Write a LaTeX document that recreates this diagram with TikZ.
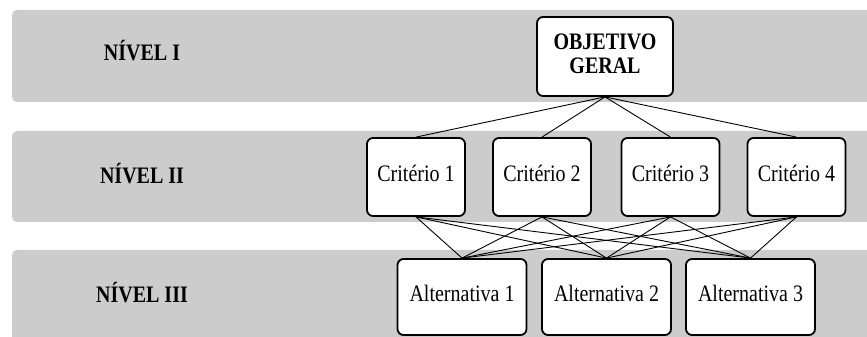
\documentclass[tikz,border=0pt]{standalone}
\usepackage{fontspec}
\setmainfont{Liberation Serif}
\usepackage{graphicx}
\usepackage{tikz}
\definecolor{xBand}{RGB}{204,204,204}

% the printed letters are a little taller than they are wide
\newcommand{\stretchtext}[1]{%
    \scalebox{1}[1.18]{\begin{tabular}{@{}c@{}}#1\end{tabular}}}

\tikzset{
    levelband/.style={fill=xBand, rounded corners=5pt},
    levellabel/.style={font=\fontsize{20}{25}\selectfont\bfseries},
    hierbox/.style={draw=black, fill=white, line width=1.8pt,
        rounded corners=6pt, align=center,
        font=\fontsize{20}{21}\selectfont},
    link/.style={black, line width=0.9pt}
}

\begin{document}
\begin{tikzpicture}[x=1pt,y=1pt]

    \useasboundingbox (0,0) rectangle (867,337);

    % -------------------------------------------------
    % Grey level bands (they run off the right edge)
    % -------------------------------------------------
    \fill[levelband] (12,235) rectangle (890,327);
    \fill[levelband] (12,115) rectangle (890,206);
    \fill[levelband] (12,-20) rectangle (890,87);

    % -------------------------------------------------
    % Level names
    % -------------------------------------------------
    \node[levellabel] (niv1) at (142,282) {\stretchtext{NÍVEL I}};
    \node[levellabel] (niv2) at (142,159) {\stretchtext{NÍVEL II}};
    \node[levellabel] (niv3) at (142,40)  {\stretchtext{NÍVEL III}};

    % -------------------------------------------------
    % Boxes of the hierarchy
    % -------------------------------------------------
    \node[hierbox, font=\fontsize{20}{21}\selectfont\bfseries,
          minimum width=136, minimum height=79]
        (og) at (605,280.5) {\stretchtext{OBJETIVO\\GERAL}};

    \foreach \i/\x in {1/416, 2/542, 3/670.5, 4/796.5}{
        \node[hierbox, minimum width=98, minimum height=78]
            (c\i) at (\x,160) {\stretchtext{Critério \i}};
    }

    \foreach \i/\x in {1/462, 2/606.5, 3/750.5}{
        \node[hierbox, minimum width=129, minimum height=76]
            (a\i) at (\x,40) {\stretchtext{Alternativa \i}};
    }

    % -------------------------------------------------
    % Connectors: goal to criteria, criteria to alternatives
    % -------------------------------------------------
    \foreach \i in {1,...,4}{
        \draw[link] (og.south) -- (c\i.north);
        \foreach \j in {1,2,3}{
            \draw[link] (c\i.south) -- (a\j.north);
        }
    }

\end{tikzpicture}
\end{document}
